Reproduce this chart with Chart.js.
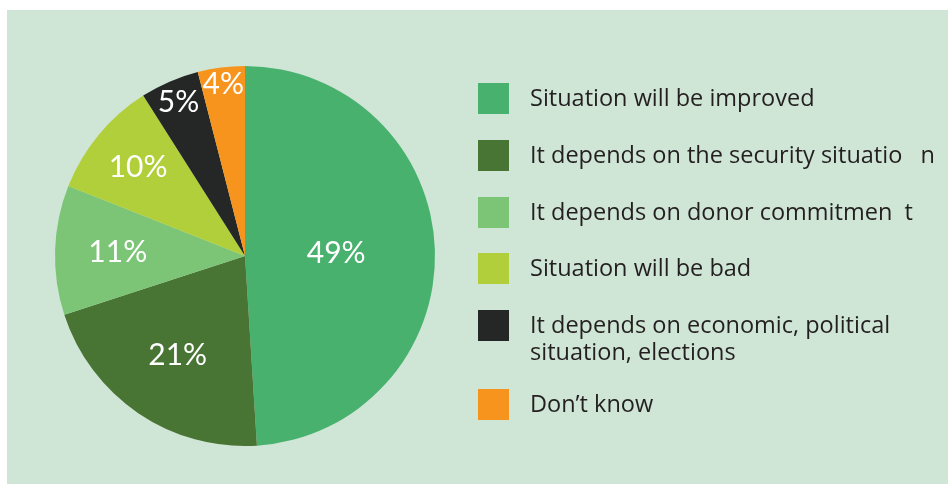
<!DOCTYPE html>
<html><head><meta charset="utf-8">
<script src="https://cdn.jsdelivr.net/npm/chart.js@4"></script>
<style>
html,body{margin:0;padding:0;background:#fff;width:948px;height:484px;overflow:hidden;font-family:"Open Sans",Lato,sans-serif;}
#panel{position:absolute;left:7px;top:10px;width:941px;height:474px;background:#cfe5d5;}
#wrap{position:absolute;left:0;top:0;width:948px;height:484px;}
.item{position:absolute;left:478px;}
.sw{position:absolute;left:0;width:31px;height:31px;}
.tx{position:absolute;left:52px;white-space:pre;color:#231f20;font-size:23.5px;line-height:27px;}
</style></head>
<body>
<div id="panel"></div>
<div id="wrap"><canvas id="c" width="948" height="484"></canvas></div>
<div id="legend"></div>
<script>
const categories = [
  "Situation will be improved",
  "It depends on the security situatio   n",
  "It depends on donor commitmen  t",
  "Situation will be bad",
  "It depends on economic, political\nsituation, elections",
  "Don\u2019t know"
];
const values = [49, 21, 11, 10, 5, 4];
const valueLabels = ["49%", "21%", "11%", "10%", "5%", "4%"];
const colors = ["#48b16e", "#487434", "#7cc576", "#b0cf3a", "#252726", "#f7941d"];

const labelRadius = [0.48, 0.63, 0.67, 0.73, 0.88, 0.91];
const legendTops = [83, 140, 197, 253, 310, 389];

const pctPlugin = {
  id: 'pct',
  afterDatasetsDraw(chart) {
    const ctx = chart.ctx;
    const meta = chart.getDatasetMeta(0);
    ctx.save();
    ctx.fillStyle = '#ffffff';
    ctx.font = '30px Lato';
    ctx.textAlign = 'center';
    ctx.textBaseline = 'middle';
    meta.data.forEach((arc, i) => {
      const p = arc.getProps(['x','y','startAngle','endAngle','outerRadius'], true);
      const a = (p.startAngle + p.endAngle) / 2;
      const r = p.outerRadius * labelRadius[i];
      ctx.fillText(valueLabels[i], p.x + Math.cos(a) * r, p.y + Math.sin(a) * r);
    });
    ctx.restore();
  }
};

new Chart(document.getElementById('c'), {
  type: 'pie',
  data: {
    labels: categories,
    datasets: [{ data: values, backgroundColor: colors, borderWidth: 0 }]
  },
  options: {
    responsive: false,
    animation: false,
    layout: { padding: { left: 55, top: 66, right: 513, bottom: 38 } },
    plugins: { legend: { display: false }, tooltip: { enabled: false } }
  },
  plugins: [pctPlugin]
});

const lg = document.getElementById('legend');
categories.forEach((c, i) => {
  const d = document.createElement('div');
  d.className = 'item';
  d.style.top = legendTops[i] + 'px';
  const sw = document.createElement('div');
  sw.className = 'sw';
  sw.style.background = colors[i];
  const tx = document.createElement('div');
  tx.className = 'tx';
  tx.style.top = '1px';
  tx.textContent = c;
  d.appendChild(sw); d.appendChild(tx);
  lg.appendChild(d);
});
</script>
</body></html>
